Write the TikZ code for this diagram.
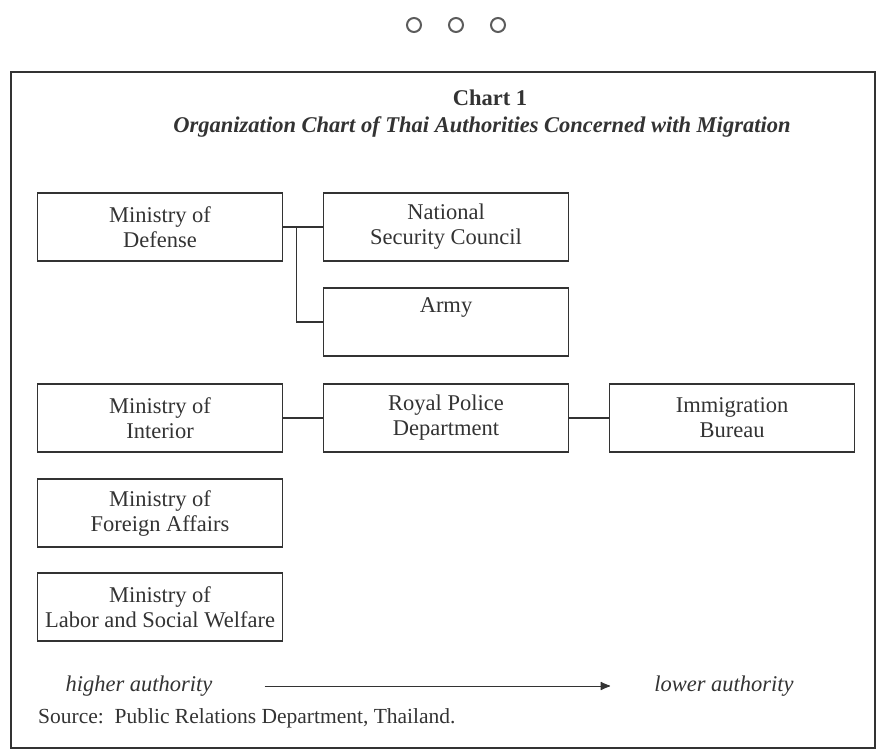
\documentclass[tikz,border=0pt]{standalone}
\usepackage{fontspec}
\setmainfont{Liberation Serif}
\usetikzlibrary{arrows.meta}
\definecolor{ink}{gray}{0.2}

\begin{document}
\begin{tikzpicture}[x=1pt, y=-1pt,
  office/.style={rectangle, draw=ink, line width=1.3pt, minimum width=245pt, minimum height=68pt,
    align=center, text=ink, anchor=center, inner sep=3pt},
  link/.style={draw=ink, line width=1.3pt},
  label/.style={text=ink, inner sep=0pt},
  node distance=286pt]
  \fontsize{22.5}{25}\selectfont
  \useasboundingbox (0,0) rectangle (886,755);

  % page marks and frame
  \foreach \cx in {414,456,498}
    \draw[ink!80, line width=2pt] (\cx,25) circle (7pt);
  \draw[ink, line width=2pt] (11,72) rectangle (875,748);

  \node[label, font=\bfseries] (chart) at (490,98) {Chart 1};
  \node[label, font=\bfseries\itshape] (title) at (482,127) {Organization Chart of Thai Authorities Concerned with Migration};

  \node[office] (defense) at (160,227) {Ministry of\\Defense};
  \node[office, right of=defense] (nsc) {National\\Security Council};
  \node[office, below of=nsc, node distance=95pt] (army) {Army\\[8pt]\mbox{}};
  \node[office, below of=defense, node distance=191pt] (interior) {Ministry of\\Interior};
  \node[office, right of=interior] (police) {Royal Police\\Department};
  \node[office, right of=police] (immigration) {Immigration\\Bureau};
  \node[office, below of=interior, node distance=95pt] (foreign) {Ministry of\\Foreign Affairs};
  \node[office, below of=foreign, node distance=94pt] (labor) {Ministry of\\Labor and Social Welfare};

  \draw[link] (defense) -- node[coordinate, pos=0.34] (fork) {} (nsc);
  \draw[link] (fork) |- (army);
  \draw[link] (interior) -- (police);
  \draw[link] (police) -- (immigration);

  \node[label, font=\itshape] (higher) at (139,686) {higher authority};
  \node[label, font=\itshape] (lower) at (724,686) {lower authority};
  \draw[link, line width=1pt, -{Latex[length=11pt, width=9pt, round]}, shorten <=52pt, shorten >=44pt] (higher) -- (lower);

  \node[label, anchor=west, font=\fontsize{21.5}{25}\selectfont] (source) at (38,718) {Source:\ \ Public Relations Department, Thailand.};

\end{tikzpicture}
\end{document}
